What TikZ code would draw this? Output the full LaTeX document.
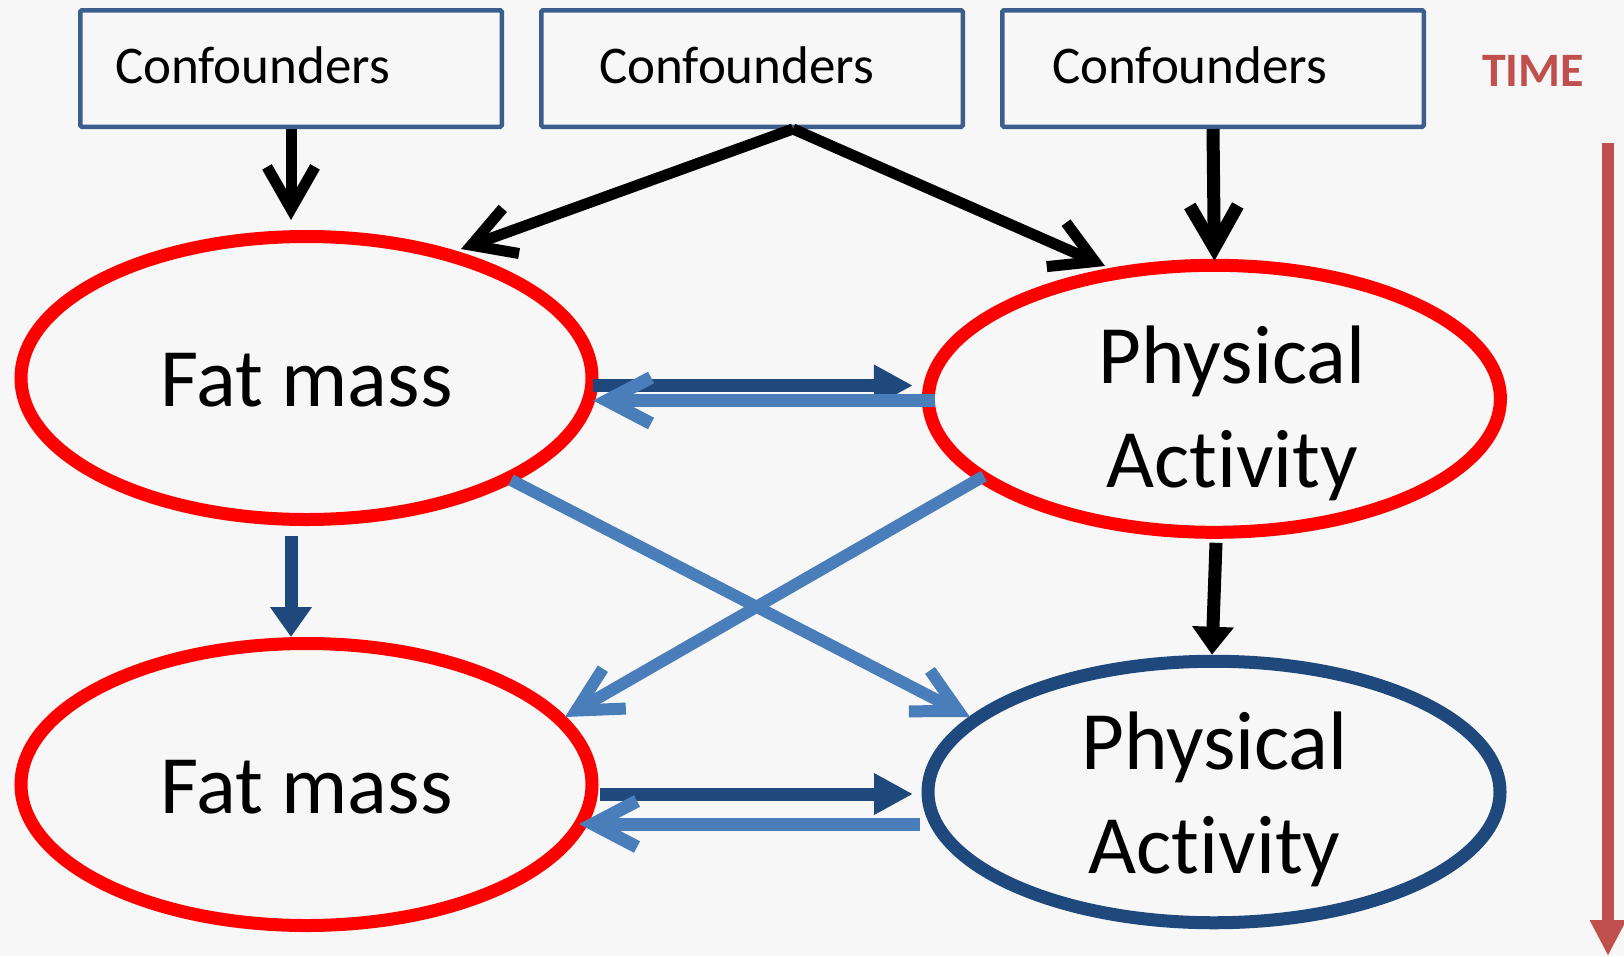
\documentclass[tikz,border=0pt]{standalone}
\usepackage{fontspec}
\setmainfont{Carlito}[Ligatures=NoCommon]
\usetikzlibrary{arrows.meta,shapes.geometric}
\definecolor{bgc}{HTML}{F7F7F7}
\definecolor{boxc}{HTML}{3B5E8C}
\definecolor{dblue}{HTML}{1F497D}
\definecolor{lblue}{HTML}{4A7EBB}
\definecolor{timec}{HTML}{C0504D}
\definecolor{ered}{HTML}{FF0000}
\begin{document}
\begin{tikzpicture}[x=1pt,y=-1pt,
  cbox/.style={draw=boxc, line width=4.5pt, minimum width=421.5pt, minimum height=116.5pt, inner sep=0pt, rounded corners=1.5pt},
  ctext/.style={anchor=base west, inner sep=0pt, font=\fontsize{53}{64}\selectfont},
  oval/.style={ellipse, line width=13pt, inner sep=0pt},
  big/.style={inner sep=0pt, anchor=base, font=\fontsize{83}{104}\selectfont, align=center},
  blackbarb/.style={draw=black, line width=11pt, -{Straight Barb[length=42pt,width=48pt]}},
  bluebarb/.style={draw=lblue, line width=12pt, -{Straight Barb[length=44pt,width=46pt]}},
  dtri/.style={draw=dblue, line width=13pt, -{Triangle[length=39pt,width=39pt]}},
]
\useasboundingbox (0,0) rectangle (1624,956);
\fill[bgc] (0,0) rectangle (1624,956);

% confounder boxes
\node[cbox] (box1) at (291,68.5) {};
\node[cbox] (box2) at (752,68.5) {};
\node[cbox] (box3) at (1213,68.5) {};
\node[ctext] (c1) at (115,83) {Confounders};
\node[ctext] (c2) at (599,83) {Confounders};
\node[ctext] (c3) at (1052,83) {Confounders};

% TIME
\node[inner sep=0pt, anchor=base, text=timec, font=\fontsize{48}{56}\selectfont\bfseries] (time) at (1533,86) {TIME};
\coordinate (ttop) at (1608,143);
\coordinate (tbot) at (1608,956);
\draw[draw=timec, line width=12pt, -{Triangle[length=36pt,width=34pt]}] (ttop) -- (tbot);

% ellipses
\node[oval, draw=ered, minimum width=571pt, minimum height=283pt] (fm1) at (306.5,378) {};
\node[oval, draw=ered, minimum width=572pt, minimum height=267pt] (pa1) at (1214.4,398.8) {};
\node[oval, draw=ered, minimum width=571pt, minimum height=282pt] (fm2) at (306.5,784.5) {};
\node[oval, draw=dblue, minimum width=572pt, minimum height=261.5pt] (pa2) at (1214,792) {};

\node[big] (fm1t) at (306.5,406) {Fat mass};
\node[big] (pa1t) at (1232,487) {Physical\\Activity};
\node[big] (fm2t) at (306.5,813) {Fat mass};
\node[big] (pa2t) at (1214.5,873) {Physical\\Activity};

% confounder arrows
\draw[blackbarb] (box1.south) -- ([shift={(-15.5,-10)}]fm1.north);
\draw[blackbarb] ([xshift=41pt]box2.south) -- ([shift={(154.5,19)}]fm1.north);
\draw[blackbarb] ([xshift=41pt]box2.south) -- ([shift={(-109.4,7.2)}]pa1.north);
\draw[blackbarb, line width=13pt] (box3.south) -- ([yshift=-2pt]pa1.north);

% vertical arrows
\draw[dtri, -{Triangle[length=30pt,width=40pt]}] ([shift={(-15.5,10)}]fm1.south) -- ([shift={(-15.5,0)}]fm2.north);
\draw[draw=black, line width=13pt, -{Triangle[length=28pt,width=40pt]}] ([shift={(1.6,4)}]pa1.south) -- ([shift={(-2,0)}]pa2.north);

% horizontal arrows
\draw[dtri] ([shift={(-5.5,7.5)}]fm1.east) -- ([shift={(-9,-13.3)}]pa1.west);
\draw[bluebarb, line width=13pt] ([shift={(13,1.7)}]pa1.west) -- ([shift={(-5.5,22.5)}]fm1.east);
\draw[dtri] ([shift={(1.5,9.5)}]fm2.east) -- ([shift={(-8.5,2)}]pa2.west);
\draw[bluebarb, line width=13pt] ([shift={(-1.5,32)}]pa2.west) -- ([shift={(-19.5,39.5)}]fm2.east);

% cross arrows
\draw[bluebarb] ([shift={(204.5,102)}]fm1.center) -- ([shift={(-244,-75)}]pa2.center);
\draw[bluebarb] ([shift={(-230.4,77.2)}]pa1.center) -- ([shift={(258.5,-67.5)}]fm2.center);
\end{tikzpicture}
\end{document}
